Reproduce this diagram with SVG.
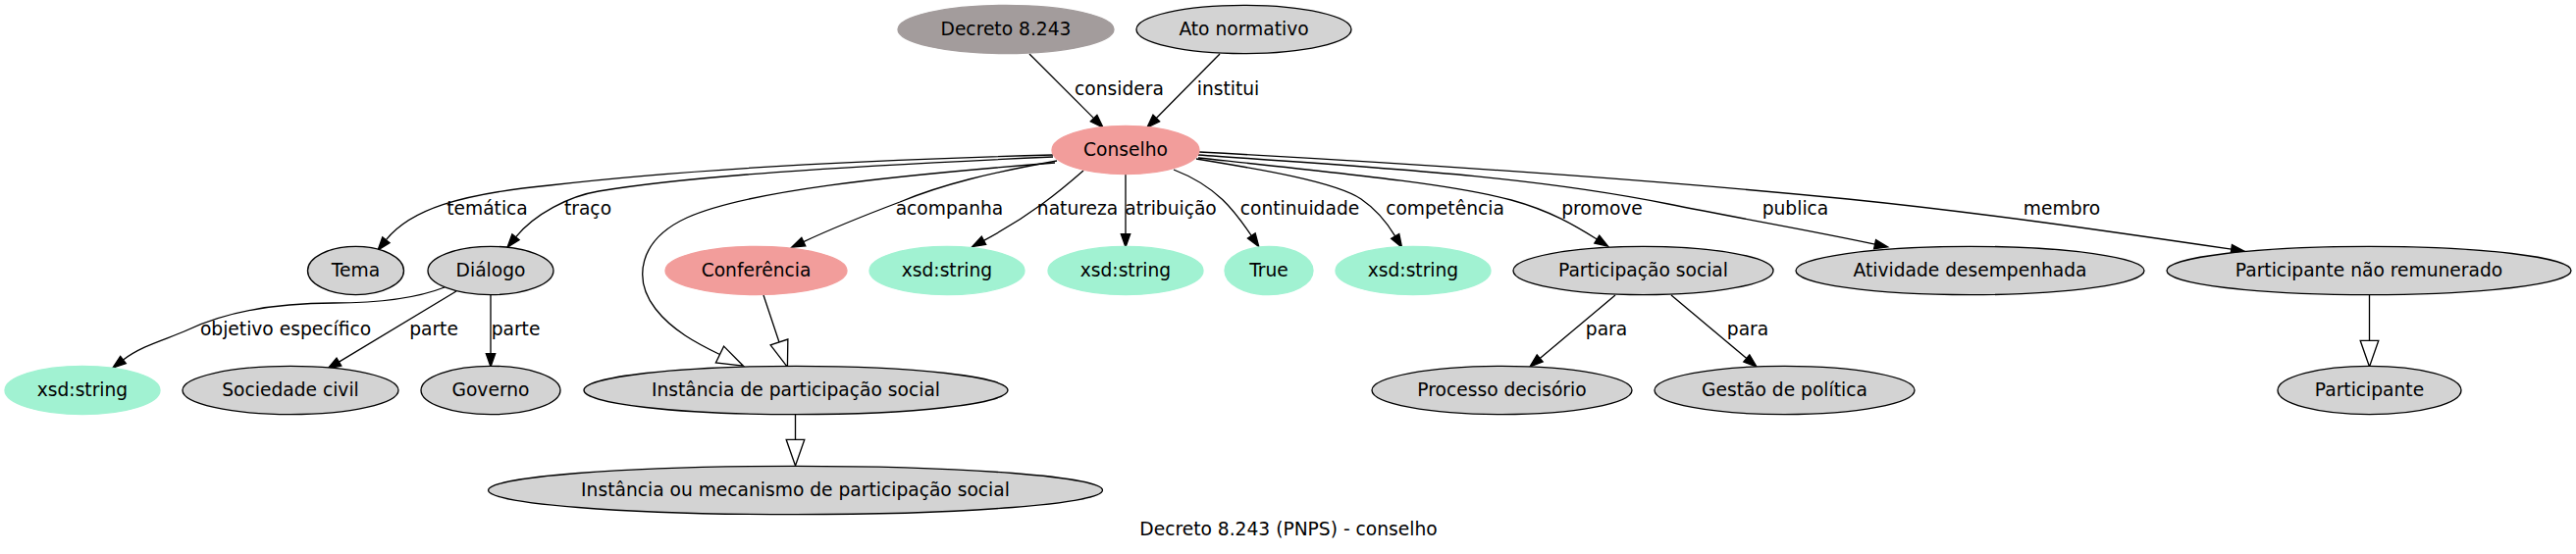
<svg xmlns="http://www.w3.org/2000/svg" width="2625" height="565" viewBox="0 0 2625 565">
<style>
text{font-family:"DejaVu Sans","Liberation Sans",sans-serif;font-size:18.67px;fill:#000;text-anchor:middle}
.g{fill:#d3d3d3;stroke:#000;stroke-width:1.33}
.p{fill:#f29d9b;stroke:#f29d9b;stroke-width:1.33}
.a{fill:#a1f2d2;stroke:#a1f2d2;stroke-width:1.33}
.d{fill:#a39c9c;stroke:#a39c9c;stroke-width:1.33}
.e{fill:none;stroke:#000;stroke-width:1.33}
.f{marker-end:url(#arr)}
.h{marker-end:url(#harr)}
</style>
<defs>
<marker id="arr" viewBox="-1 -6 16 12" refX="0" refY="0" markerWidth="16" markerHeight="12" orient="auto" markerUnits="userSpaceOnUse" overflow="visible">
<path d="M0,-4.67 L13.33,0 L0,4.67 Z" fill="#000" stroke="#000" stroke-width="1.33"/>
</marker>
<marker id="harr" viewBox="-2 -11 31 22" refX="0" refY="0" markerWidth="31" markerHeight="22" orient="auto" markerUnits="userSpaceOnUse" overflow="visible">
<path d="M0,-9.33 L26.67,0 L0,9.33 Z" fill="#fff" stroke="#000" stroke-width="1.33"/>
</marker>
</defs>
<rect x="0" y="0" width="2625" height="565" fill="#fff"/>
<g id="edges">
<path class="e f" d="M1049,55 L1114.6,120.6"/>
<text x="1140.5" y="97">considera</text>
<path class="e f" d="M1243,55 L1178.3,120.5"/>
<text x="1251.5" y="97">institui</text>
<path class="e f" d="M1073,158 C850,164 680,175 560,189 C468,198 418,214 393.4,244.7"/>
<text x="496.5" y="219">temática</text>
<path class="e f" d="M1073,160 C850,170 700,180 610,195 C580,200 545,218 525.5,241.8"/>
<text x="599" y="219">traço</text>
<path class="e h" d="M1075,166 C900,180 760,195 700,222 C650,245 645,285 668,315 C685,337 710,350 733.5,361.5"/>
<path class="e f" d="M1077,164 C1010,176 960,188 917,206 C880,220 850,232 818.8,246.6"/>
<text x="967.5" y="219">acompanha</text>
<path class="e f" d="M1104,174 C1080,195 1050,220 1002.5,245.3"/>
<text x="1098" y="219">natureza</text>
<path class="e f" d="M1147,178 L1147,238.7"/>
<text x="1193" y="219">atribuição</text>
<path class="e f" d="M1196,173 C1240,190 1258,215 1275.3,240.5"/>
<text x="1324.5" y="219">continuidade</text>
<path class="e f" d="M1219,162 C1280,172 1360,185 1387,203 C1403,214 1414,228 1421.7,240.9"/>
<text x="1472.5" y="219">competência</text>
<path class="e f" d="M1221,161 C1380,178 1480,188 1540,204 C1580,215 1605,230 1627.3,244"/>
<text x="1632.5" y="219">promove</text>
<path class="e f" d="M1221,158 C1420,172 1560,180 1700,208 C1780,224 1850,236 1910.6,249.1"/>
<text x="1829.5" y="219">publica</text>
<path class="e f" d="M1222,155 C1500,170 1700,185 1883,203 C2020,217 2150,236 2273.8,254.2"/>
<text x="2101" y="219">membro</text>
<path class="e f" d="M453,293 C425,304 390,309 340,309 C280,309 230,318 190,337 C170,346 145,352 125.5,367"/>
<text x="291" y="342">objetivo específico</text>
<path class="e f" d="M465,297 L345.4,369.1"/>
<text x="442" y="342">parte</text>
<path class="e f" d="M500,301 L500,360.7"/>
<text x="525.5" y="342">parte</text>
<path class="e h" d="M778,301 L794,349"/>
<path class="e h" d="M810.5,423 L810.5,448.3"/>
<path class="e f" d="M1646,301 L1569.2,365.4"/>
<text x="1637" y="342">para</text>
<path class="e f" d="M1703,301 L1779.8,365.4"/>
<text x="1781" y="342">para</text>
<path class="e h" d="M2414.5,301 L2414.5,347.3"/>
</g>
<g id="n_decreto"><ellipse class="d" cx="1025" cy="30" rx="110" ry="24.7"/><text x="1025" y="35.5">Decreto 8.243</text></g>
<g id="n_ato"><ellipse class="g" cx="1267.5" cy="30" rx="109.5" ry="24.7"/><text x="1267.5" y="35.5">Ato normativo</text></g>
<g id="n_conselho"><ellipse class="p" cx="1147" cy="153" rx="75" ry="24.7"/><text x="1147" y="158.5">Conselho</text></g>
<g id="n_tema"><ellipse class="g" cx="362.5" cy="276" rx="49" ry="24.7"/><text x="362.5" y="281.5">Tema</text></g>
<g id="n_dialogo"><ellipse class="g" cx="500" cy="276" rx="64" ry="24.7"/><text x="500" y="281.5">Diálogo</text></g>
<g id="n_conferencia"><ellipse class="p" cx="770.5" cy="276" rx="92.5" ry="24.7"/><text x="770.5" y="281.5">Conferência</text></g>
<g id="n_str1"><ellipse class="a" cx="965" cy="276" rx="79" ry="24.7"/><text x="965" y="281.5">xsd:string</text></g>
<g id="n_str2"><ellipse class="a" cx="1147" cy="276" rx="79" ry="24.7"/><text x="1147" y="281.5">xsd:string</text></g>
<g id="n_true"><ellipse class="a" cx="1293" cy="276" rx="45" ry="24.7"/><text x="1293" y="281.5">True</text></g>
<g id="n_str3"><ellipse class="a" cx="1440" cy="276" rx="79" ry="24.7"/><text x="1440" y="281.5">xsd:string</text></g>
<g id="n_partsocial"><ellipse class="g" cx="1674.5" cy="276" rx="132.5" ry="24.7"/><text x="1674.5" y="281.5">Participação social</text></g>
<g id="n_atividade"><ellipse class="g" cx="2007.5" cy="276" rx="177.5" ry="24.7"/><text x="2007.5" y="281.5">Atividade desempenhada</text></g>
<g id="n_pnr"><ellipse class="g" cx="2414" cy="276" rx="206" ry="24.7"/><text x="2414" y="281.5">Participante não remunerado</text></g>
<g id="n_str4"><ellipse class="a" cx="84" cy="398" rx="79" ry="24.7"/><text x="84" y="403.5">xsd:string</text></g>
<g id="n_sociedade"><ellipse class="g" cx="296" cy="398" rx="110" ry="24.7"/><text x="296" y="403.5">Sociedade civil</text></g>
<g id="n_governo"><ellipse class="g" cx="500" cy="398" rx="71" ry="24.7"/><text x="500" y="403.5">Governo</text></g>
<g id="n_instancia"><ellipse class="g" cx="811" cy="398" rx="216" ry="24.7"/><text x="811" y="403.5">Instância de participação social</text></g>
<g id="n_processo"><ellipse class="g" cx="1530.5" cy="398" rx="132.5" ry="24.7"/><text x="1530.5" y="403.5">Processo decisório</text></g>
<g id="n_gestao"><ellipse class="g" cx="1818.5" cy="398" rx="132.5" ry="24.7"/><text x="1818.5" y="403.5">Gestão de política</text></g>
<g id="n_participante"><ellipse class="g" cx="2414.5" cy="398" rx="93.5" ry="24.7"/><text x="2414.5" y="403.5">Participante</text></g>
<g id="n_mecanismo"><ellipse class="g" cx="810.5" cy="500" rx="313" ry="24.7"/><text x="810.5" y="505.5">Instância ou mecanismo de participação social</text></g>
<text id="title" x="1313" y="546">Decreto 8.243 (PNPS) - conselho</text>
</svg>
